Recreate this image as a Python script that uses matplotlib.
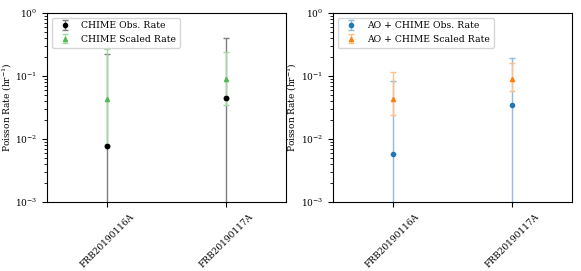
import numpy as np
import matplotlib.pyplot as plt

plt.rcParams['font.family'] = 'serif'
plt.rcParams['font.serif'] = ['DejaVu Serif']
plt.rcParams['mathtext.fontset'] = 'dejavuserif'
plt.rcParams['font.size'] = 6.5

frbs = ['FRB20190116A', 'FRB20190117A']

# left panel: CHIME only
chime_obs = [0.0078, 0.045]
chime_obs_lo = [0.0078, 0.045]      # lower bound at zero
chime_obs_hi = [0.212, 0.36]
chime_scaled = [0.043, 0.0885]
chime_scaled_lo = [0.035, 0.054]
chime_scaled_hi = [0.227, 0.155]

# right panel: AO + CHIME
ao_obs = [0.0057, 0.035]
ao_obs_lo = [0.0057, 0.035]
ao_obs_hi = [0.077, 0.16]
ao_scaled = [0.0436, 0.0886]
ao_scaled_lo = [0.0198, 0.0316]
ao_scaled_hi = [0.071, 0.070]

x = np.arange(len(frbs))

fig = plt.figure(figsize=(5.81, 2.71), dpi=100)
ax1 = fig.add_axes([0.081, 0.255, 0.411, 0.697])
ax2 = fig.add_axes([0.573, 0.255, 0.411, 0.697])

kw = dict(ms=3, capsize=2, elinewidth=1, capthick=1)

ax1.errorbar(x, chime_obs, yerr=[chime_obs_lo, chime_obs_hi], fmt='o',
             color='k', ecolor='#7f7f7f', label='CHIME Obs. Rate', zorder=2, **kw)
ax1.errorbar(x, chime_scaled, yerr=[chime_scaled_lo, chime_scaled_hi], fmt='^',
             color='#55b855', ecolor='#a3d9a3', label='CHIME Scaled Rate', zorder=3, **kw)
ax1.plot(x, chime_obs, 'o', color='k', ms=3, zorder=4)
ax1.legend(loc='upper left', fontsize=6.7)

ax2.errorbar(x, ao_obs, yerr=[ao_obs_lo, ao_obs_hi], fmt='o',
             color='tab:blue', ecolor='#8fbbdd', label='AO + CHIME Obs. Rate', zorder=2, **kw)
ax2.errorbar(x, ao_scaled, yerr=[ao_scaled_lo, ao_scaled_hi], fmt='^',
             color='tab:orange', ecolor='#ffbf86', label='AO + CHIME Scaled Rate', zorder=3, **kw)
ax2.legend(loc='upper left', fontsize=6.7)

for ax in (ax1, ax2):
    ax.set_yscale('log')
    ax.set_ylim(1e-3, 1)
    ax.set_xlim(-0.5, 1.5)
    ax.set_xticks(x)
    ax.set_xticklabels(frbs, rotation=45)
    ax.set_ylabel('Poisson Rate (hr$^{-1}$)')
    ax.yaxis.set_label_coords(-0.14, 0.5)

fig.savefig('out.png', dpi=100)
